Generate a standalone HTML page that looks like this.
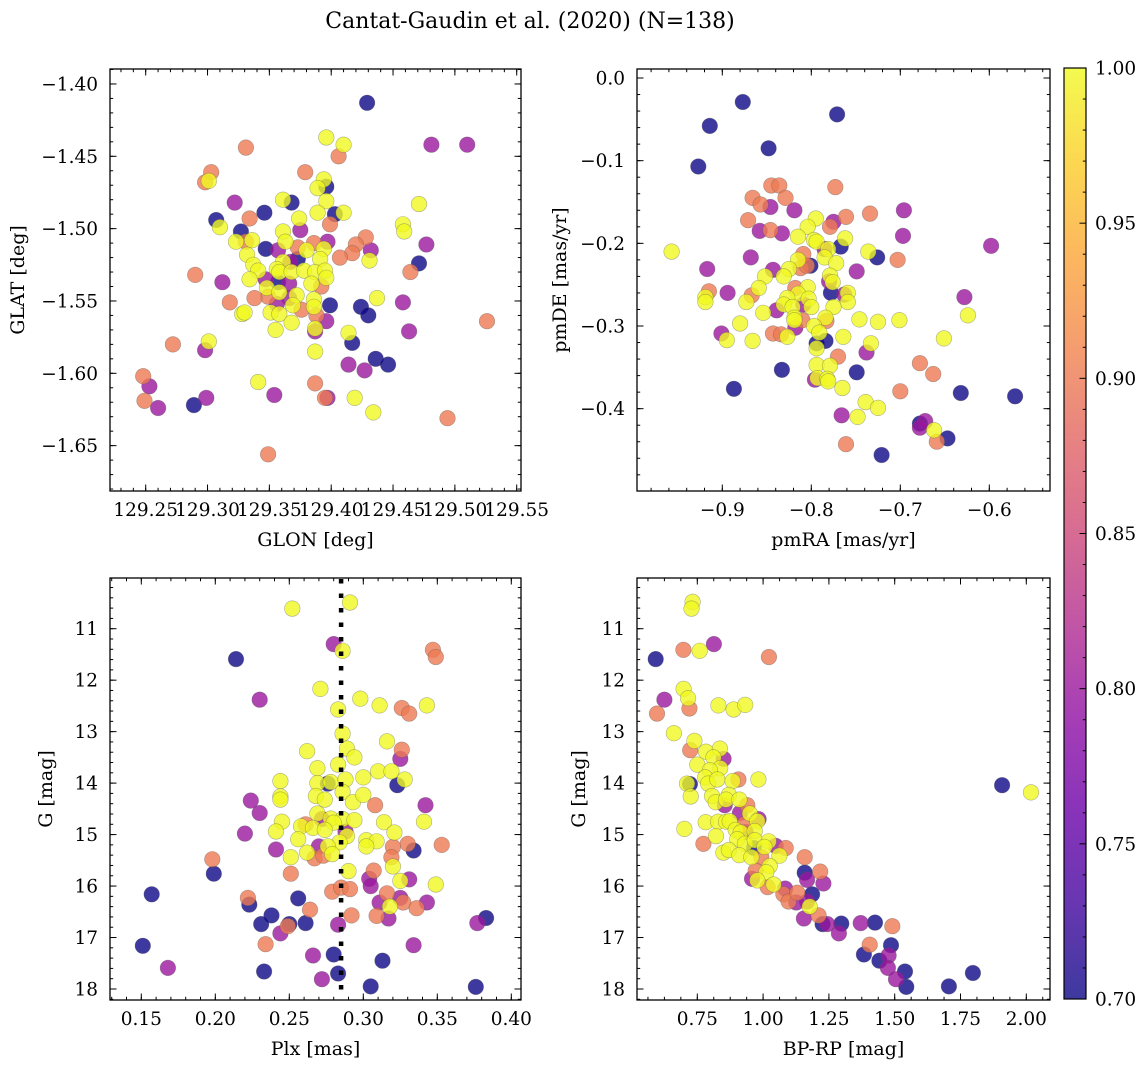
<!DOCTYPE html>
<html><head><meta charset="utf-8"><title>Cantat-Gaudin et al. (2020)</title>
<style>
html,body{margin:0;padding:0;background:#fff;}
svg{display:block;font-family:"DejaVu Serif","Liberation Serif",serif;}
</style></head>
<body>
<svg id="fig" xmlns="http://www.w3.org/2000/svg" width="1148" height="1067" viewBox="0 0 1148 1067">
<defs>
<linearGradient id="cbgrad" x1="0" y1="1" x2="0" y2="0">
<stop offset="0" stop-color="#0d0887"/><stop offset="0.1" stop-color="#41049d"/><stop offset="0.2" stop-color="#6a00a8"/><stop offset="0.3" stop-color="#8f0da4"/><stop offset="0.4" stop-color="#b12a90"/><stop offset="0.5" stop-color="#cc4778"/><stop offset="0.6" stop-color="#e16462"/><stop offset="0.7" stop-color="#f2844b"/><stop offset="0.8" stop-color="#fca636"/><stop offset="0.9" stop-color="#fcce25"/><stop offset="1" stop-color="#f0f921"/>
</linearGradient>
</defs>
<text x="530" y="28" font-size="22" text-anchor="middle">Cantat-Gaudin et al. (2020) (N=138)</text>
</svg>
<script>
// ---------- data: panel 1 (GLON vs GLAT) ----------
const p1Glon=[129.429,129.396,129.410,129.481,129.510,129.331,129.406,129.379,129.303,129.298,129.301,129.394,129.396,129.389,129.322,129.368,129.361,129.396,129.471,129.346,129.334,129.389,129.403,129.410,129.307,129.310,129.374,129.399,129.458,129.459,129.327,129.375,129.361,129.323,129.336,129.331,129.363,129.428,129.386,129.397,129.420,129.477,129.347,129.357,129.373,129.380,129.394,129.417,129.407,129.432,129.431,129.332,129.373,129.367,129.391,129.471,129.337,129.341,129.361,129.356,129.358,129.368,129.378,129.387,129.395,129.290,129.312,129.464,129.334,129.347,129.357,129.366,129.384,129.396,129.392,129.348,129.349,129.358,129.372,129.366,129.338,129.318,129.386,129.386,129.399,129.437,129.458,129.356,129.369,129.376,129.424,129.430,129.328,129.330,129.351,129.358,129.388,129.396,129.368,129.526,129.355,129.387,129.387,129.463,129.414,129.417,129.272,129.301,129.298,129.387,129.436,129.446,129.414,129.427,129.248,129.253,129.341,129.387,129.249,129.260,129.289,129.299,129.354,129.397,129.395,129.419,129.434,129.494,129.349];
const p1Glat=[-1.413,-1.437,-1.442,-1.442,-1.442,-1.444,-1.450,-1.461,-1.461,-1.468,-1.467,-1.466,-1.471,-1.472,-1.482,-1.482,-1.480,-1.481,-1.483,-1.489,-1.493,-1.489,-1.490,-1.489,-1.494,-1.499,-1.493,-1.497,-1.497,-1.502,-1.502,-1.501,-1.502,-1.509,-1.508,-1.509,-1.509,-1.506,-1.510,-1.509,-1.511,-1.511,-1.514,-1.515,-1.513,-1.515,-1.514,-1.517,-1.520,-1.515,-1.522,-1.518,-1.521,-1.523,-1.521,-1.524,-1.525,-1.529,-1.523,-1.528,-1.530,-1.530,-1.529,-1.530,-1.529,-1.532,-1.537,-1.530,-1.535,-1.535,-1.537,-1.538,-1.538,-1.534,-1.540,-1.541,-1.547,-1.544,-1.546,-1.548,-1.548,-1.551,-1.549,-1.554,-1.553,-1.548,-1.551,-1.552,-1.553,-1.556,-1.554,-1.560,-1.559,-1.558,-1.558,-1.559,-1.560,-1.564,-1.565,-1.564,-1.570,-1.571,-1.569,-1.571,-1.572,-1.579,-1.580,-1.578,-1.584,-1.585,-1.590,-1.594,-1.594,-1.598,-1.602,-1.609,-1.606,-1.607,-1.619,-1.624,-1.622,-1.617,-1.615,-1.617,-1.617,-1.617,-1.627,-1.631,-1.656];
const p1Prob=[0.7,1,1,0.8,0.8,0.9,0.9,0.9,0.9,0.9,1,1,0.7,1,0.8,0.7,1,1,1,0.7,0.9,1,0.7,1,0.7,1,1,0.9,1,1,0.7,0.8,1,1,1,0.9,1,0.9,0.9,0.8,0.9,0.8,0.7,0.8,0.9,1,1,0.9,0.9,0.8,1,1,0.7,0.8,1,0.7,1,1,1,1,1,1,1,1,1,0.9,0.8,0.9,1,0.8,0.7,0.8,1,1,0.9,1,0.9,1,1,0.8,0.9,0.9,1,1,0.7,1,0.8,0.8,1,0.9,0.7,0.7,1,1,1,1,0.9,0.8,1,0.9,1,0.8,1,0.8,1,0.7,0.9,1,0.8,1,0.7,0.7,0.8,0.8,0.9,0.8,1,0.9,0.9,0.8,0.7,0.8,0.8,0.8,0.9,1,1,0.9,0.9];
// ---------- data: panel 2 (pmRA vs pmDE) ----------
const p2Pmra=[-0.877,-0.914,-0.771,-0.848,-0.927,-0.845,-0.836,-0.773,-0.866,-0.829,-0.857,-0.846,-0.819,-0.761,-0.734,-0.696,-0.871,-0.795,-0.775,-0.779,-0.804,-0.858,-0.846,-0.833,-0.815,-0.697,-0.762,-0.797,-0.794,-0.767,-0.598,-0.957,-0.785,-0.781,-0.736,-0.726,-0.809,-0.785,-0.772,-0.868,-0.703,-0.815,-0.801,-0.812,-0.805,-0.917,-0.825,-0.843,-0.749,-0.852,-0.831,-0.779,-0.780,-0.776,-0.915,-0.919,-0.919,-0.894,-0.859,-0.867,-0.818,-0.804,-0.778,-0.815,-0.763,-0.759,-0.759,-0.873,-0.827,-0.803,-0.831,-0.821,-0.809,-0.800,-0.775,-0.628,-0.839,-0.854,-0.624,-0.819,-0.810,-0.784,-0.783,-0.746,-0.725,-0.701,-0.880,-0.819,-0.818,-0.797,-0.901,-0.843,-0.834,-0.827,-0.791,-0.895,-0.866,-0.764,-0.651,-0.794,-0.784,-0.794,-0.733,-0.738,-0.770,-0.678,-0.663,-0.794,-0.779,-0.833,-0.749,-0.796,-0.793,-0.782,-0.781,-0.765,-0.887,-0.700,-0.632,-0.571,-0.739,-0.725,-0.766,-0.748,-0.678,-0.672,-0.678,-0.662,-0.647,-0.659,-0.761,-0.721];
const p2Pmde=[-0.029,-0.058,-0.044,-0.085,-0.107,-0.130,-0.130,-0.132,-0.145,-0.145,-0.153,-0.156,-0.160,-0.168,-0.164,-0.160,-0.172,-0.170,-0.174,-0.180,-0.180,-0.185,-0.184,-0.188,-0.192,-0.191,-0.194,-0.196,-0.198,-0.204,-0.203,-0.210,-0.207,-0.207,-0.210,-0.217,-0.213,-0.217,-0.224,-0.217,-0.220,-0.220,-0.227,-0.230,-0.227,-0.231,-0.231,-0.232,-0.234,-0.240,-0.240,-0.239,-0.246,-0.247,-0.258,-0.265,-0.271,-0.260,-0.254,-0.263,-0.254,-0.253,-0.260,-0.261,-0.262,-0.260,-0.271,-0.271,-0.266,-0.267,-0.274,-0.277,-0.274,-0.277,-0.277,-0.265,-0.281,-0.284,-0.287,-0.290,-0.293,-0.290,-0.294,-0.292,-0.295,-0.293,-0.297,-0.293,-0.302,-0.300,-0.309,-0.309,-0.310,-0.313,-0.308,-0.317,-0.318,-0.313,-0.315,-0.321,-0.318,-0.327,-0.321,-0.332,-0.337,-0.345,-0.358,-0.347,-0.348,-0.353,-0.356,-0.365,-0.363,-0.364,-0.367,-0.375,-0.376,-0.379,-0.381,-0.385,-0.392,-0.399,-0.408,-0.410,-0.418,-0.415,-0.423,-0.426,-0.436,-0.440,-0.443,-0.456];
const p2Prob=[0.7,0.7,0.7,0.7,0.7,0.9,0.9,0.9,0.9,0.9,0.9,0.8,0.8,0.9,0.9,0.8,0.9,1,0.8,0.9,1,0.8,0.9,0.8,1,0.8,1,1,1,0.7,0.8,1,0.8,1,1,0.7,0.9,1,1,0.8,0.9,1,0.7,0.9,0.9,0.8,1,0.8,0.8,1,1,1,0.8,1,0.9,1,1,0.8,1,0.9,0.9,1,0.7,1,0.8,1,1,1,1,1,1,1,0.8,1,1,0.8,0.8,1,1,1,0.9,1,0.9,1,1,1,1,1,0.8,1,0.8,0.9,0.9,1,1,1,1,1,1,0.7,0.7,1,1,0.8,0.9,0.9,0.9,1,1,0.7,0.7,0.8,1,1,1,1,0.7,0.9,0.7,0.7,1,1,0.8,1,0.7,0.8,0.8,1,0.7,0.9,0.9,0.7];
// ---------- data: panel 3 (Plx vs G) ----------
const p3Plx=[0.252,0.291,0.280,0.286,0.214,0.347,0.349,0.271,0.230,0.298,0.311,0.326,0.343,0.331,0.283,0.286,0.316,0.326,0.325,0.262,0.289,0.294,0.283,0.269,0.310,0.319,0.244,0.269,0.276,0.278,0.288,0.300,0.323,0.328,0.286,0.224,0.244,0.244,0.268,0.274,0.293,0.300,0.308,0.342,0.230,0.269,0.272,0.278,0.286,0.294,0.280,0.245,0.261,0.258,0.266,0.274,0.314,0.341,0.241,0.220,0.288,0.289,0.321,0.256,0.284,0.302,0.309,0.302,0.330,0.334,0.353,0.270,0.276,0.320,0.241,0.262,0.267,0.273,0.279,0.251,0.319,0.320,0.198,0.199,0.251,0.290,0.307,0.304,0.325,0.331,0.305,0.349,0.279,0.285,0.291,0.157,0.222,0.223,0.256,0.316,0.325,0.311,0.327,0.343,0.318,0.264,0.336,0.238,0.231,0.250,0.249,0.261,0.292,0.309,0.317,0.283,0.383,0.377,0.244,0.151,0.234,0.334,0.266,0.280,0.313,0.168,0.233,0.283,0.272,0.305,0.376];
const p3G=[10.61,10.49,11.30,11.43,11.59,11.41,11.55,12.17,12.38,12.36,12.49,12.54,12.49,12.65,12.57,13.04,13.19,13.35,13.53,13.38,13.33,13.50,13.64,13.71,13.77,13.77,13.96,14.00,14.01,13.98,13.93,13.89,14.04,13.93,14.17,14.34,14.26,14.32,14.25,14.32,14.37,14.23,14.43,14.43,14.58,14.59,14.70,14.69,14.70,14.72,14.77,14.75,14.80,14.84,14.87,14.91,14.76,14.75,14.94,14.98,14.94,15.03,14.96,15.09,15.15,15.11,15.13,15.23,15.18,15.31,15.20,15.23,15.23,15.24,15.29,15.35,15.46,15.41,15.38,15.44,15.44,15.62,15.48,15.76,15.76,15.71,15.70,15.86,15.90,15.87,16.00,15.97,16.11,16.03,16.06,16.16,16.23,16.36,16.24,16.14,16.23,16.32,16.32,16.32,16.40,16.46,16.43,16.57,16.74,16.74,16.78,16.72,16.57,16.58,16.63,16.75,16.62,16.72,16.92,17.16,17.13,17.15,17.35,17.33,17.45,17.59,17.66,17.70,17.81,17.95,17.96];
const p3Prob=[1,1,0.8,1,0.7,0.9,0.9,1,0.8,1,1,0.9,1,0.9,1,1,1,0.9,0.8,1,1,1,1,1,1,1,1,1,0.7,1,1,1,0.7,1,1,0.8,1,1,1,1,1,1,0.9,0.8,0.8,1,0.8,1,1,1,1,1,0.9,1,1,1,1,1,1,0.8,0.8,1,1,1,1,1,1,1,0.9,0.7,0.9,0.8,1,0.9,0.8,1,0.9,0.9,1,1,0.9,1,0.9,0.7,0.9,1,0.9,0.8,1,0.8,0.8,1,0.9,0.9,0.9,0.7,0.9,0.7,0.7,0.9,0.8,0.8,0.9,0.8,1,0.9,0.9,0.7,0.7,0.7,0.9,0.7,0.9,0.9,0.8,0.8,0.7,0.8,0.8,0.7,0.9,0.8,0.8,0.7,0.7,0.8,0.7,0.7,0.8,0.7,0.7];
const p3PlxRef=[0.285];
// ---------- data: panel 4 (BP-RP vs G) ----------
const p4BpRp=[0.732,0.728,0.813,0.697,0.759,0.592,1.022,0.698,0.625,0.715,0.720,0.597,0.830,0.888,0.932,0.661,0.739,0.723,0.783,0.836,0.850,0.811,0.750,0.837,0.798,0.780,0.791,0.826,0.906,0.884,0.982,0.722,0.711,0.725,0.806,0.820,0.854,0.870,0.859,0.910,0.940,0.912,0.950,0.983,0.978,0.782,0.829,0.859,0.873,0.929,0.896,0.915,0.934,0.968,0.701,0.821,0.902,0.931,0.968,1.021,1.048,1.086,1.005,0.965,0.773,0.849,0.870,0.910,0.955,0.993,1.062,1.158,1.025,1.012,0.972,0.958,0.978,1.158,1.167,1.217,1.229,1.017,1.040,1.084,1.077,1.097,1.130,1.186,1.167,1.126,1.177,1.211,1.155,1.226,1.244,1.297,1.371,1.425,1.288,1.491,1.405,1.486,1.383,1.477,1.442,1.474,1.539,1.505,1.544,1.706,1.797,1.908,2.018];
const p4G=[10.48,10.61,11.30,11.41,11.43,11.59,11.55,12.17,12.38,12.35,12.55,12.65,12.49,12.57,12.48,13.03,13.18,13.36,13.39,13.33,13.53,13.50,13.64,13.71,13.75,13.89,14.01,13.93,13.93,13.96,13.93,14.02,14.01,14.26,14.25,14.37,14.43,14.23,14.32,14.32,14.43,14.58,14.59,14.70,14.74,14.76,14.75,14.75,14.74,14.80,14.91,14.96,14.95,14.93,14.89,15.03,15.09,15.18,15.11,15.13,15.22,15.26,15.24,15.26,15.18,15.35,15.30,15.40,15.44,15.44,15.41,15.44,15.61,15.73,15.70,15.86,15.89,15.74,15.88,15.72,15.95,16.02,15.97,16.05,16.16,16.30,16.13,16.16,16.30,16.32,16.40,16.57,16.63,16.74,16.74,16.73,16.72,16.71,16.92,16.78,17.14,17.15,17.33,17.35,17.45,17.59,17.66,17.81,17.96,17.95,17.69,14.04,14.18];
const p4Prob=[1,1,0.8,0.9,1,0.7,0.9,1,0.8,1,0.9,0.9,1,1,1,1,1,0.9,1,1,0.8,1,1,1,1,1,1,1,0.9,1,1,0.7,1,1,1,1,0.8,1,1,1,0.9,0.8,1,0.8,1,1,1,1,1,0.9,1,1,0.8,1,1,1,1,1,1,1,0.8,0.9,1,0.7,0.9,1,1,1,1,0.9,1,0.9,1,1,0.9,0.8,1,0.7,0.8,0.9,0.8,0.9,1,0.8,0.9,0.9,0.9,0.7,0.8,0.8,1,0.9,0.8,0.7,0.8,0.7,0.8,0.7,0.8,0.9,0.9,0.7,0.7,0.8,0.7,0.8,0.7,0.8,0.7,0.7,0.7,0.7,1];
// ---------- tick labels ----------
const p1XTicks=[129.25,129.30,129.35,129.40,129.45,129.50,129.55];
const p1YTicks=[-1.40,-1.45,-1.50,-1.55,-1.60,-1.65];
const p2XTicks=[-0.9,-0.8,-0.7,-0.6];
const p2YTicks=[0.0,-0.1,-0.2,-0.3,-0.4];
const p3XTicks=[0.15,0.20,0.25,0.30,0.35,0.40];
const gTicks=[11,12,13,14,15,16,17,18];
const p4XTicks=[0.75,1.00,1.25,1.50,1.75,2.00];
const cbTicks=[0.70,0.75,0.80,0.85,0.90,0.95,1.00];

const NS="http://www.w3.org/2000/svg";
const svg=document.getElementById('fig');
const TFS=18.5, LFS=19;
function mk(tag,attrs,parent){const e=document.createElementNS(NS,tag);for(const k in attrs)e.setAttribute(k,attrs[k]);(parent||svg).appendChild(e);return e;}
const stops=[[0,[13,8,135]],[0.1,[65,4,157]],[0.2,[106,0,168]],[0.3,[143,13,164]],[0.4,[177,42,144]],[0.5,[204,71,120]],[0.6,[225,100,98]],[0.7,[242,132,75]],[0.8,[252,166,54]],[0.9,[252,206,37]],[1,[240,249,33]]];
function plasma(t){t=Math.max(0,Math.min(1,t));for(let i=1;i<stops.length;i++){if(t<=stops[i][0]){const a=stops[i-1],b=stops[i];const f=(t-a[0])/(b[0]-a[0]);const c=a[1].map((v,j)=>Math.round(v+(b[1][j]-v)*f));return 'rgb('+c.join(',')+')';}}return 'rgb(240,249,33)';}
const VMIN=0.7,VMAX=1.0;
function fmt(v,d){const s=Math.abs(v).toFixed(d);return (v<0?'\u2212':'')+s;}

function panel(cfg){
  const g=mk('g',{});
  
  
  const X=v=>cfg.xr+(v-cfg.xv)*cfg.xs;
  const Y=v=>cfg.yr+(v-cfg.yv)*cfg.ys;
  const L=cfg.box[0],T=cfg.box[1],R=cfg.box[2],B=cfg.box[3];
  const clipId='clip-'+cfg.name;
  const cp=mk('clipPath',{id:clipId},g);mk('rect',{x:L,y:T,width:R-L,height:B-T},cp);
  const pts=mk('g',{'clip-path':'url(#'+clipId+')'},g);
  
  
  const idx=cfg.xs_data.map((_,i)=>i).sort((a,b)=>cfg.prob[a]-cfg.prob[b]);
  idx.forEach(i=>{
    const c=mk('circle',{cx:X(cfg.xs_data[i]).toFixed(1),cy:Y(cfg.ys_data[i]).toFixed(1),r:7.8,fill:plasma((cfg.prob[i]-VMIN)/(VMAX-VMIN)),'fill-opacity':0.8,stroke:'#555','stroke-opacity':0.45,'stroke-width':0.6},pts);
    
    
  });
  if(cfg.vline){cfg.vline.forEach(v=>{const l=mk('line',{x1:X(v),x2:X(v),y1:T+1,y2:B,stroke:'#000','stroke-width':4.5,'stroke-dasharray':'4.5 10'},g);
    
    });}
  const tk=mk('g',{stroke:'#000','stroke-width':1},g);
  
  
  function xt(v,len){const x=X(v);if(x<L-0.5||x>R+0.5)return;mk('line',{x1:x,x2:x,y1:B,y2:B-len},tk);mk('line',{x1:x,x2:x,y1:T,y2:T+len},tk);}
  function yt(v,len){const y=Y(v);if(y<T-0.5||y>B+0.5)return;mk('line',{x1:L,x2:L+len,y1:y,y2:y},tk);mk('line',{x1:R,x2:R-len,y1:y,y2:y},tk);}
  const xv0=(L-cfg.xr)/cfg.xs+cfg.xv, xv1=(R-cfg.xr)/cfg.xs+cfg.xv;
  for(let k=Math.ceil(Math.min(xv0,xv1)/cfg.xminor-1e-6);k*cfg.xminor<=Math.max(xv0,xv1)+1e-9;k++)xt(k*cfg.xminor,3.2);
  const yv0=(T-cfg.yr)/cfg.ys+cfg.yv, yv1=(B-cfg.yr)/cfg.ys+cfg.yv;
  for(let k=Math.ceil(Math.min(yv0,yv1)/cfg.yminor-1e-6);k*cfg.yminor<=Math.max(yv0,yv1)+1e-9;k++)yt(k*cfg.yminor,3.2);
  cfg.xticks.forEach(v=>{xt(v,6.5);const t=mk('text',{x:X(v),y:B+25,'font-size':TFS,'text-anchor':'middle'},g);t.textContent=fmt(v,cfg.xd);
    });
  cfg.yticks.forEach(v=>{yt(v,6.5);const t=mk('text',{x:L-12,y:Y(v)+6.5,'font-size':TFS,'text-anchor':'end'},g);t.textContent=fmt(v,cfg.yd);
    });
  const fr=mk('rect',{x:L,y:T,width:R-L,height:B-T,fill:'none',stroke:'#000','stroke-width':1.3},g);
  
  
  const xl=mk('text',{x:(L+R)/2,y:B+55,'font-size':LFS,'text-anchor':'middle'},g);xl.textContent=cfg.xlabel;
  
  const yl=mk('text',{x:0,y:0,'font-size':LFS,'text-anchor':'middle',transform:'translate('+cfg.ylx+','+(T+B)/2+') rotate(-90)'},g);yl.textContent=cfg.ylabel;
  
}

panel({name:'glon-glat-panel',box:[110,69,521,491],xs_data:p1Glon,ys_data:p1Glat,prob:p1Prob,
  xv:129.25,xr:145.7,xs:1236.7,yv:-1.45,yr:156.3,ys:-1446.7,xminor:0.01,yminor:0.01,
  xticks:p1XTicks,yticks:p1YTicks,xd:2,yd:2,xlabel:'GLON [deg]',ylabel:'GLAT [deg]',ylx:24});
panel({name:'proper-motion-panel',box:[637,69,1050,491],xs_data:p2Pmra,ys_data:p2Pmde,prob:p2Prob,
  xv:-0.9,xr:722.3,xs:890,yv:0,yr:78,ys:-826.7,xminor:0.02,yminor:0.02,
  xticks:p2XTicks,yticks:p2YTicks,xd:1,yd:1,xlabel:'pmRA [mas/yr]',ylabel:'pmDE [mas/yr]',ylx:566});
panel({name:'parallax-magnitude-panel',box:[110,578,521,1000],xs_data:p3Plx,ys_data:p3G,prob:p3Prob,vline:p3PlxRef,
  xv:0.15,xr:141.3,xs:1480,yv:11,yr:628.7,ys:51.47,xminor:0.01,yminor:0.2,
  xticks:p3XTicks,yticks:gTicks,xd:2,yd:0,xlabel:'Plx [mas]',ylabel:'G [mag]',ylx:52});
panel({name:'color-magnitude-panel',box:[637,578,1050,1000],xs_data:p4BpRp,ys_data:p4G,prob:p4Prob,
  xv:0.75,xr:697.3,xs:263.2,yv:11,yr:628.7,ys:51.47,xminor:0.0625,yminor:0.2,
  xticks:p4XTicks,yticks:gTicks,xd:2,yd:0,xlabel:'BP-RP [mag]',ylabel:'G [mag]',ylx:585});

const cb=mk('g',{});


const CBT=68,CBB=999,CBL=1064,CBR=1086;
const CY=v=>CBB-(v-VMIN)/(VMAX-VMIN)*(CBB-CBT);
mk('rect',{x:CBL,y:CBT,width:CBR-CBL,height:CBB-CBT,fill:'url(#cbgrad)','fill-opacity':0.8},cb);
const cbt=mk('g',{stroke:'#000','stroke-width':1},cb);
for(let k=70;k<=100;k++){const y=CY(k/100);const major=(k%5===0);mk('line',{x1:CBR,x2:CBR-(major?6.5:3.2),y1:y,y2:y},cbt);}
cbTicks.forEach(v=>{const t=mk('text',{x:CBR+9,y:CY(v)+6.5,'font-size':TFS},cb);t.textContent=v.toFixed(2);
  });
mk('rect',{x:CBL,y:CBT,width:CBR-CBL,height:CBB-CBT,fill:'none',stroke:'#000','stroke-width':1.2},cb);
</script>
</body></html>
